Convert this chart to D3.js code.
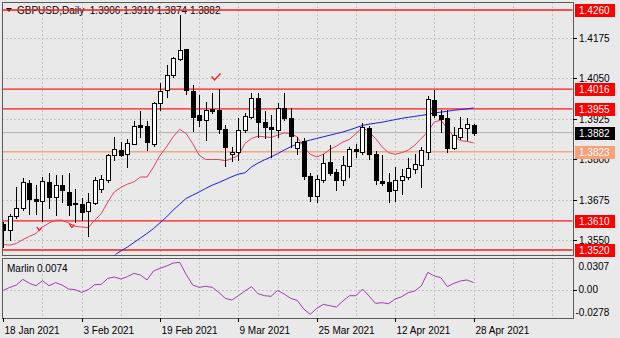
<!DOCTYPE html>
<html><head><meta charset="utf-8">
<script src="https://cdn.jsdelivr.net/npm/d3@7/dist/d3.min.js"></script>
<style>
html,body{margin:0;padding:0;background:#e9e9e9;}
svg{display:block;font-family:"Liberation Sans",Arial,sans-serif;}
</style>
</head><body>
<svg id="chart" width="620" height="338"></svg>
<script>
const symbol = "GBPUSD,Daily";
const dates = [
"2021-01-18","2021-01-19","2021-01-20","2021-01-21","2021-01-22","2021-01-25","2021-01-26","2021-01-27","2021-01-28","2021-01-29",
"2021-02-01","2021-02-02","2021-02-03","2021-02-04","2021-02-05","2021-02-08","2021-02-09","2021-02-10","2021-02-11","2021-02-12",
"2021-02-15","2021-02-16","2021-02-17","2021-02-18","2021-02-19","2021-02-22","2021-02-23","2021-02-24","2021-02-25","2021-02-26",
"2021-03-01","2021-03-02","2021-03-03","2021-03-04","2021-03-05","2021-03-08","2021-03-09","2021-03-10","2021-03-11","2021-03-12",
"2021-03-15","2021-03-16","2021-03-17","2021-03-18","2021-03-19","2021-03-22","2021-03-23","2021-03-24","2021-03-25","2021-03-26",
"2021-03-29","2021-03-30","2021-03-31","2021-04-01","2021-04-02","2021-04-05","2021-04-06","2021-04-07","2021-04-08","2021-04-09",
"2021-04-12","2021-04-13","2021-04-14","2021-04-15","2021-04-16","2021-04-19","2021-04-20","2021-04-21","2021-04-22","2021-04-23",
"2021-04-26","2021-04-27","2021-04-28"];
const open = [
1.3599,1.3581,1.3624,1.3648,1.3727,1.3677,1.3671,1.3730,1.3682,1.3720,
1.3699,1.3665,1.3661,1.3641,1.3666,1.3709,1.3735,1.3812,1.3828,1.3815,
1.3848,1.3905,1.3902,1.3848,1.3972,1.4013,1.4059,1.4108,1.4140,1.4011,
1.3935,1.3922,1.3955,1.3953,1.3892,1.3817,1.3823,1.3890,1.3931,1.3990,
1.3915,1.3900,1.3890,1.3959,1.3926,1.3836,1.3856,1.3749,1.3686,1.3735,
1.3790,1.3761,1.3735,1.3778,1.3831,1.3823,1.3895,1.3817,1.3732,1.3730,
1.3706,1.3735,1.3745,1.3771,1.3781,1.3823,1.3984,1.3936,1.3926,1.3835,
1.3869,1.3895,1.3906];
const high = [
1.3606,1.3632,1.3715,1.3743,1.3735,1.3720,1.3745,1.3758,1.3751,1.3751,
1.3756,1.3709,1.3679,1.3696,1.3745,1.3751,1.3817,1.3867,1.3853,1.3861,
1.3918,1.3949,1.3918,1.3977,1.4036,1.4090,1.4116,1.4244,1.4141,1.4028,
1.3998,1.3977,1.4005,1.4015,1.3905,1.3838,1.3926,1.3943,1.4003,1.4003,
1.3948,1.3936,1.3972,1.4003,1.3959,1.3867,1.3864,1.3756,1.3751,1.3815,
1.3843,1.3771,1.3809,1.3838,1.3848,1.3912,1.3902,1.3826,1.3812,1.3756,
1.3776,1.3771,1.3805,1.3815,1.3838,1.3995,1.4013,1.3951,1.3951,1.3900,
1.3929,1.3926,1.3910];
const low = [
1.3530,1.3552,1.3620,1.3643,1.3632,1.3632,1.3610,1.3648,1.3629,1.3668,
1.3627,1.3607,1.3612,1.3562,1.3661,1.3699,1.3730,1.3799,1.3810,1.3776,
1.3846,1.3869,1.3828,1.3840,1.3951,1.3992,1.4054,1.4106,1.4000,1.3887,
1.3902,1.3859,1.3943,1.3881,1.3778,1.3794,1.3799,1.3884,1.3926,1.3869,
1.3864,1.3807,1.3869,1.3920,1.3838,1.3817,1.3740,1.3670,1.3668,1.3730,
1.3751,1.3704,1.3720,1.3745,1.3807,1.3817,1.3802,1.3725,1.3720,1.3668,
1.3671,1.3694,1.3740,1.3758,1.3715,1.3802,1.3931,1.3884,1.3823,1.3830,
1.3861,1.3859,1.3874];
const close = [
1.3581,1.3624,1.3651,1.3730,1.3676,1.3670,1.3733,1.3682,1.3720,1.3704,
1.3658,1.3661,1.3637,1.3668,1.3735,1.3738,1.3814,1.3830,1.3812,1.3850,
1.3902,1.3898,1.3853,1.3972,1.4011,1.4059,1.4111,1.4138,1.4013,1.3931,
1.3922,1.3951,1.3949,1.3892,1.3838,1.3822,1.3890,1.3933,1.3990,1.3915,
1.3900,1.3892,1.3959,1.3926,1.3871,1.3853,1.3748,1.3686,1.3738,1.3789,
1.3758,1.3735,1.3781,1.3830,1.3826,1.3900,1.3817,1.3735,1.3727,1.3702,
1.3735,1.3749,1.3773,1.3784,1.3828,1.3985,1.3936,1.3923,1.3836,1.3874,
1.3895,1.3908,1.3882];
// red moving average (one value per bar)
const maFast = [
1.3537,1.3535,1.3540,1.3552,1.3562,1.3571,1.3591,1.3603,1.3612,1.3612,
1.3603,1.3593,1.3591,1.3589,1.3612,1.3632,1.3668,1.3699,1.3713,1.3723,
1.3730,1.3745,1.3745,1.3776,1.3812,1.3838,1.3869,1.3892,1.3879,1.3848,
1.3812,1.3799,1.3799,1.3799,1.3795,1.3802,1.3812,1.3848,1.3864,1.3871,
1.3869,1.3867,1.3874,1.3881,1.3879,1.3869,1.3838,1.3815,1.3807,1.3815,
1.3830,1.3840,1.3853,1.3861,1.3879,1.3898,1.3884,1.3864,1.3838,1.3820,
1.3815,1.3820,1.3828,1.3843,1.3864,1.3884,1.3915,1.3920,1.3895,1.3869,
1.3857,1.3855,1.3850];
// blue moving average, visible from bar 17 onward
const maSlowFirstBar = 17;
const maSlow = [
1.3504,1.3517,1.3529,1.3543,1.3557,1.3571,1.3586,1.3604,1.3622,1.3643,
1.3661,1.3679,1.3689,1.3699,1.3710,1.3720,1.3728,1.3737,1.3746,1.3754,
1.3758,1.3776,1.3788,1.3798,1.3807,1.3817,1.3828,1.3838,1.3847,1.3854,
1.3859,1.3864,1.3869,1.3874,1.3879,1.3884,1.3890,1.3897,1.3904,1.3908,
1.3911,1.3914,1.3918,1.3922,1.3926,1.3929,1.3932,1.3935,1.3938,1.3943,
1.3945,1.3948,1.3951,1.3953,1.3955,1.3958];
const marlin = [
-0.0004,0.0026,0.0049,0.0105,0.0066,0.0042,0.0092,0.0042,0.0072,0.0049,
0.0009,0.0003,-0.0024,0.0003,0.0052,0.0056,0.0115,0.0128,0.0109,0.0132,
0.0165,0.0148,0.0099,0.0188,0.0214,0.0238,0.0267,0.0274,0.0155,0.0049,
0.0026,0.0036,0.0026,-0.0024,-0.0083,-0.0100,-0.0057,-0.0010,0.0033,-0.0037,
-0.0057,-0.0063,-0.0004,-0.0040,-0.0083,-0.0103,-0.0189,-0.0242,-0.0182,-0.0143,
-0.0156,-0.0169,-0.0110,-0.0057,-0.0057,0.0009,-0.0060,-0.0133,-0.0126,-0.0136,
-0.0090,-0.0067,-0.0027,-0.0010,0.0039,0.0175,0.0138,0.0122,0.0033,0.0066,
0.0089,0.0099,0.0074];
const priceTicks = [1.4175,1.4050,1.3925,1.3800,1.3675,1.3550];
const redLevels = [1.4260,1.4016,1.3955,1.3610,1.3520];
const orangeLevel = 1.3823;
const marlinTicks = [0.0307,0.00,-0.0278];
const marlinTickLabels = ["0.0307","0.00","-0.0278"];
const dateTickKeys = ["2021-01-18","2021-02-03","2021-02-19","2021-03-09","2021-03-25","2021-04-12","2021-04-28"];
const dateTickLabels = ["18 Jan 2021","3 Feb 2021","19 Feb 2021","9 Mar 2021","25 Mar 2021","12 Apr 2021","28 Apr 2021"];
const checkMarkBar = 32.5, checkMarkPrice = 1.4055;
const arrowMarks = [{bar:5.5, price:1.3585},{bar:10.5, price:1.3594}];

// ---------- layout ----------
const svg = d3.select("#chart");
const P = {l:2, r:573, t:2, b:255};      // main panel
const O = {t:258, b:318};                // oscillator panel
const n = dates.length;
const x = d3.scaleLinear().domain([0, n-1]).range([3.3, 473.5]);
const y = d3.scaleLinear().domain([1.3520, 1.4260]).range([250, 10]);
const ym = d3.scaleLinear().domain([-0.0278, 0.0307]).range([O.b, O.t+1]);
const fmt = d3.format(".4f");
const last = n-1;

const defs = svg.append("defs");
defs.append("clipPath").attr("id","cm").append("rect")
  .attr("x",P.l+0.5).attr("y",P.t+0.5).attr("width",P.r-P.l-1).attr("height",P.b-P.t-1);
defs.append("clipPath").attr("id","co").append("rect")
  .attr("x",P.l+0.5).attr("y",O.t+0.5).attr("width",P.r-P.l-1).attr("height",O.b-O.t-1);

const gridColor = "#c3c3c3";
// vertical grid every 6 bars
const gridBars = d3.range(6, 200, 6).filter(i => x(i) < P.r-2);
const gm = svg.append("g");
gridBars.forEach(i=>{
  const gx = Math.round(x(i))+0.5;
  [[P.t,P.b],[O.t,O.b]].forEach(([a,b])=>{
    gm.append("line").attr("x1",gx).attr("x2",gx).attr("y1",a).attr("y2",b)
      .attr("stroke",gridColor).attr("stroke-dasharray","2,2");
  });
});
priceTicks.forEach(v=>{
  const gy = Math.round(y(v))+0.5;
  gm.append("line").attr("x1",P.l).attr("x2",P.r).attr("y1",gy).attr("y2",gy)
    .attr("stroke",gridColor).attr("stroke-dasharray","2,2");
});
{
  const gy = Math.round(ym(0))+0.5;
  gm.append("line").attr("x1",P.l).attr("x2",P.r).attr("y1",gy).attr("y2",gy)
    .attr("stroke",gridColor).attr("stroke-dasharray","2,2");
}

// title
svg.append("path").attr("d","M6,8 L12,8 L9,12 Z").attr("fill","#000");
svg.append("text").attr("x",17).attr("y",10).attr("dominant-baseline","central")
  .attr("font-size",10).attr("fill","#000").style("white-space","pre")
  .text(`${symbol}  ${fmt(open[last])} ${fmt(high[last])} ${fmt(low[last])} ${fmt(close[last])}`);

// level lines
const lv = svg.append("g").attr("clip-path","url(#cm)");
lv.append("line").attr("x1",P.l).attr("x2",P.r)
  .attr("y1",y(close[last])).attr("y2",y(close[last])).attr("stroke","#b0b0b0").attr("stroke-width",1);
redLevels.forEach(v=>{
  lv.append("line").attr("x1",P.l).attr("x2",P.r).attr("y1",y(v)).attr("y2",y(v))
    .attr("stroke","#ff1a1a").attr("stroke-width",1.3);
});
lv.append("line").attr("x1",P.l).attr("x2",P.r).attr("y1",y(orangeLevel)).attr("y2",y(orangeLevel))
  .attr("stroke","#f7a57e").attr("stroke-width",1.6);

// moving averages
const lineGen = d3.line().x(d=>x(d.i)).y(d=>y(d.v));
const mg = svg.append("g").attr("clip-path","url(#cm)");
mg.append("path").datum(maSlow.map((v,k)=>({i:k+maSlowFirstBar, v})))
  .attr("d",lineGen).attr("fill","none").attr("stroke","#1c1cf0").attr("stroke-width",1);
mg.append("path").datum(maFast.map((v,i)=>({i, v})))
  .attr("d",lineGen).attr("fill","none").attr("stroke","#e2405e").attr("stroke-width",1);

// candles
const cg = svg.append("g").attr("clip-path","url(#cm)").attr("shape-rendering","crispEdges");
d3.range(n).forEach(i=>{
  const cx = Math.round(x(i));
  const o = open[i], c = close[i];
  const top = Math.round(y(Math.max(o,c))), bot = Math.round(y(Math.min(o,c)));
  cg.append("line").attr("x1",cx+0.5).attr("x2",cx+0.5)
    .attr("y1",Math.round(y(high[i]))).attr("y2",Math.round(y(low[i]))+1)
    .attr("stroke","#000");
  cg.append("rect").attr("x",cx-1.5).attr("y",top+0.5)
    .attr("width",4).attr("height",Math.max(1,bot-top))
    .attr("fill", c>=o ? "#fff" : "#000").attr("stroke","#000");
});

// marks
svg.append("path")
  .attr("d",`M${x(checkMarkBar)-4},${y(checkMarkPrice)} l3,3.5 l6,-6.5`)
  .attr("fill","none").attr("stroke","#ff2020").attr("stroke-width",1.5);
arrowMarks.forEach(m=>{
  svg.append("path")
    .attr("d",`M${x(m.bar)-2.5},${y(m.price)-2} l2.5,3.5 l2.5,-3`)
    .attr("fill","none").attr("stroke","#ff2020").attr("stroke-width",1.3);
});

// oscillator
svg.append("path").datum(marlin.map((v,i)=>({i,v})))
  .attr("clip-path","url(#co)")
  .attr("d",d3.line().x(d=>x(d.i)).y(d=>ym(d.v)))
  .attr("fill","none").attr("stroke","#a23cb2").attr("stroke-width",1);
svg.append("text").attr("x",7).attr("y",268).attr("dominant-baseline","central")
  .attr("font-size",10).attr("fill","#000").text(`Marlin ${fmt(marlin[last])}`);

// panel frames
const frameColor = "#5c5c5c";
svg.append("rect").attr("x",P.l+0.5).attr("y",P.t+0.5).attr("width",P.r-P.l).attr("height",P.b-P.t)
  .attr("fill","none").attr("stroke",frameColor);
svg.append("rect").attr("x",P.l+0.5).attr("y",O.t+0.5).attr("width",P.r-P.l).attr("height",O.b-O.t)
  .attr("fill","none").attr("stroke",frameColor);

// right price axis
const ax = svg.append("g");
priceTicks.forEach(v=>{
  const ty = Math.round(y(v))+0.5;
  ax.append("line").attr("x1",P.r).attr("x2",P.r+4).attr("y1",ty).attr("y2",ty).attr("stroke","#000");
  ax.append("text").attr("x",579).attr("y",y(v)+0.5).attr("dominant-baseline","central")
    .attr("font-size",10).attr("fill","#000").text(fmt(v));
});
function box(v, fill, txtColor){
  const cy = y(v);
  ax.append("rect").attr("x",575).attr("y",Math.round(cy)-6).attr("width",40).attr("height",13).attr("fill",fill);
  ax.append("text").attr("x",579).attr("y",cy+0.5).attr("dominant-baseline","central")
    .attr("font-size",10).attr("fill",txtColor).text(fmt(v));
}
redLevels.forEach(v=>box(v,"#ff0000","#fff"));
box(orangeLevel,"#f7a07a","#fff");
box(close[last],"#000","#fff");

// oscillator axis
marlinTicks.forEach((v,k)=>{
  const ty = Math.round(ym(v))+0.5;
  let ly = ym(v);
  if (k===0) ly = 266; if (k===2) ly = 312.5;
  if (k===1) ax.append("line").attr("x1",P.r).attr("x2",P.r+4).attr("y1",ty).attr("y2",ty).attr("stroke","#000");
  ax.append("text").attr("x", v<0 ? 575.5 : 578.5).attr("y",ly).attr("dominant-baseline","central")
    .attr("font-size",10).attr("fill","#000").text(marlinTickLabels[k]);
});

// date axis
dateTickKeys.forEach((d,k)=>{
  const i = dates.indexOf(d);
  const tx = Math.round(x(i))+0.5;
  ax.append("line").attr("x1",tx).attr("x2",tx).attr("y1",O.b).attr("y2",O.b+4).attr("stroke","#000");
  ax.append("text").attr("x",tx+1).attr("y",330).attr("dominant-baseline","central")
    .attr("font-size",10).attr("fill","#000").text(dateTickLabels[k]);
});
</script>
</body></html>
